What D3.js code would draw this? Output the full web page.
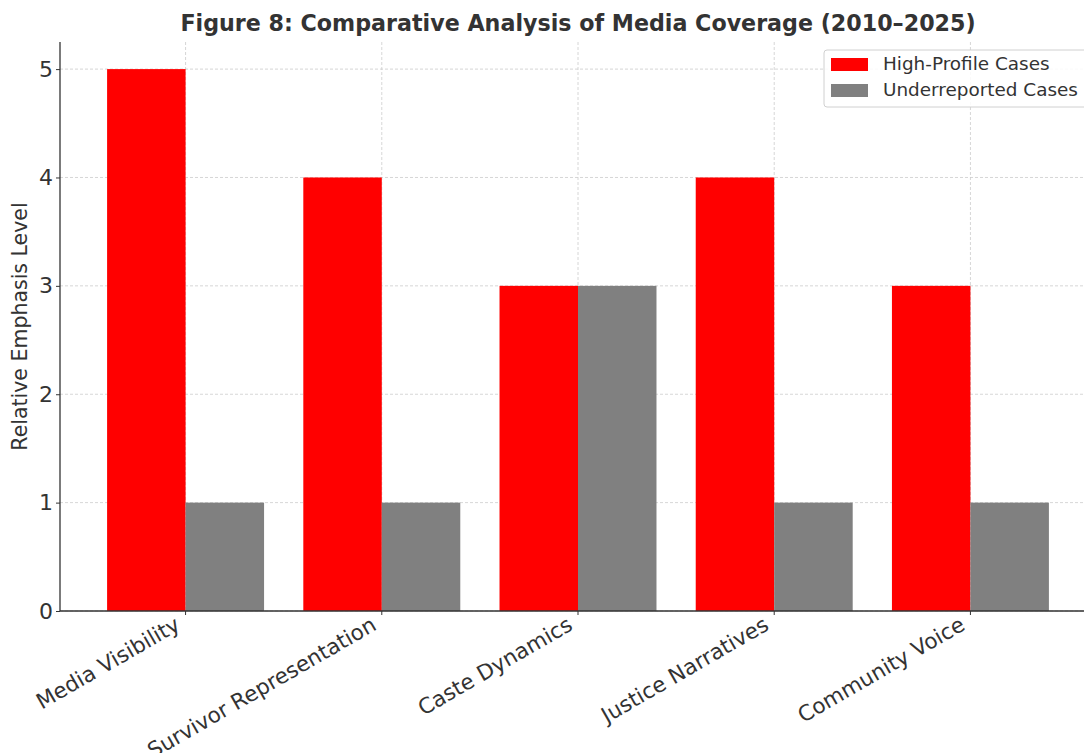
<!DOCTYPE html>
<html>
<head>
<meta charset="utf-8">
<script src="https://cdn.jsdelivr.net/npm/d3@7"></script>
<style>
  html, body { margin: 0; padding: 0; background: #fff; }
  svg { display: block; }
  svg text { font-family: "DejaVu Sans", sans-serif; }
</style>
</head>
<body>
<svg id="chart" width="1084" height="753"></svg>
<script>
const categories = ["Media Visibility", "Survivor Representation", "Caste Dynamics", "Justice Narratives", "Community Voice"];
const seriesNames = ["High-Profile Cases", "Underreported Cases"];
const highProfile = [5, 4, 3, 4, 3];
const underreported = [1, 1, 3, 1, 1];
const yTicks = [0, 1, 2, 3, 4, 5];
const colors = ["#ff0000", "#808080"];
const title = "Figure 8: Comparative Analysis of Media Coverage (2010\u20132025)";
const yLabel = "Relative Emphasis Level";

(function () {
const svg = d3.select("#chart");
const pL = 60, pR = 1096, pT = 42, pB = 611;
const textColor = "#333333";
const FONT = "DejaVu Sans, sans-serif";

const data = categories.map((c, i) => ({ cat: c, values: [highProfile[i], underreported[i]] }));

const x = d3.scaleBand().domain(categories).range([pL, pR]).paddingInner(0.2).paddingOuter(0.24);
const xs = d3.scaleBand().domain(seriesNames).range([0, x.bandwidth()]);
const y = d3.scaleLinear().domain([0, 5.25]).range([pB, pT]);

// grid
const grid = svg.append("g");
grid.selectAll("line.gy").data(yTicks).enter().append("line")
  .attr("x1", pL).attr("x2", pR)
  .attr("y1", d => y(d)).attr("y2", d => y(d))
  .attr("stroke", "#cccccc").attr("stroke-width", 0.8).attr("stroke-dasharray", "3,2");
grid.selectAll("line.gx").data(categories).enter().append("line")
  .attr("x1", d => x(d) + x.bandwidth() / 2).attr("x2", d => x(d) + x.bandwidth() / 2)
  .attr("y1", pT).attr("y2", pB)
  .attr("stroke", "#cccccc").attr("stroke-width", 0.8).attr("stroke-dasharray", "3,2");

// bars
const groups = svg.append("g").selectAll("g").data(data).enter().append("g")
  .attr("transform", d => `translate(${x(d.cat)},0)`);
groups.selectAll("rect").data(d => d.values.map((v, j) => ({ s: seriesNames[j], v, j }))).enter().append("rect")
  .attr("x", d => xs(d.s))
  .attr("width", xs.bandwidth())
  .attr("y", d => y(d.v))
  .attr("height", d => y(0) - y(d.v))
  .attr("fill", d => colors[d.j]);

// y axis
const yAxis = svg.append("g").attr("transform", `translate(${pL},0)`)
  .call(d3.axisLeft(y).tickValues(yTicks).tickFormat(d3.format("d")).tickSize(4).tickPadding(3));
yAxis.attr("font-family", FONT);
yAxis.select(".domain").attr("stroke", textColor).attr("stroke-width", 1.3).attr("d", `M0,${pT}V${pB}`);
yAxis.selectAll(".tick line").attr("stroke", textColor);
yAxis.selectAll(".tick text").attr("fill", textColor).style("font-family", FONT).style("font-size", "22px");

// x axis
const xAxis = svg.append("g").attr("transform", `translate(0,${pB})`)
  .call(d3.axisBottom(x).tickSize(4).tickFormat(d => d));
xAxis.attr("font-family", FONT);
xAxis.select(".domain").attr("stroke", textColor).attr("stroke-width", 1.3).attr("d", `M${pL},0H${pR}`);
xAxis.selectAll(".tick line").attr("stroke", textColor);
xAxis.selectAll(".tick text")
  .attr("fill", textColor).style("font-family", FONT).style("font-size", "21.5px")
  .attr("text-anchor", "end").attr("dy", null).attr("y", null)
  .attr("transform", "translate(-4,18) rotate(-30)");

// y label
svg.append("text")
  .attr("transform", `translate(27,${(pT + pB) / 2}) rotate(-90)`)
  .attr("text-anchor", "middle")
  .attr("fill", textColor).style("font-family", FONT).style("font-size", "20.5px")
  .text(yLabel);

// title
svg.append("text")
  .attr("x", (pL + pR) / 2).attr("y", 31)
  .attr("text-anchor", "middle")
  .attr("fill", textColor).style("font-family", FONT).style("font-size", "22.2px").style("font-weight", "bold")
  .text(title);

// legend
const lg = svg.append("g").attr("transform", "translate(824,50)");
lg.append("rect").attr("x", 0).attr("y", 0).attr("width", 280).attr("height", 57)
  .attr("rx", 3).attr("fill", "#ffffff").attr("fill-opacity", 0.85)
  .attr("stroke", "#d0d0d0").attr("stroke-width", 1);
seriesNames.forEach((s, i) => {
  lg.append("rect").attr("x", 7).attr("y", 8 + i * 26).attr("width", 37).attr("height", 13).attr("fill", colors[i]);
  lg.append("text").attr("x", 59).attr("y", 20 + i * 26)
    .attr("fill", textColor).style("font-family", FONT).style("font-size", "18.4px").text(s);
});
})();
</script>
</body>
</html>
